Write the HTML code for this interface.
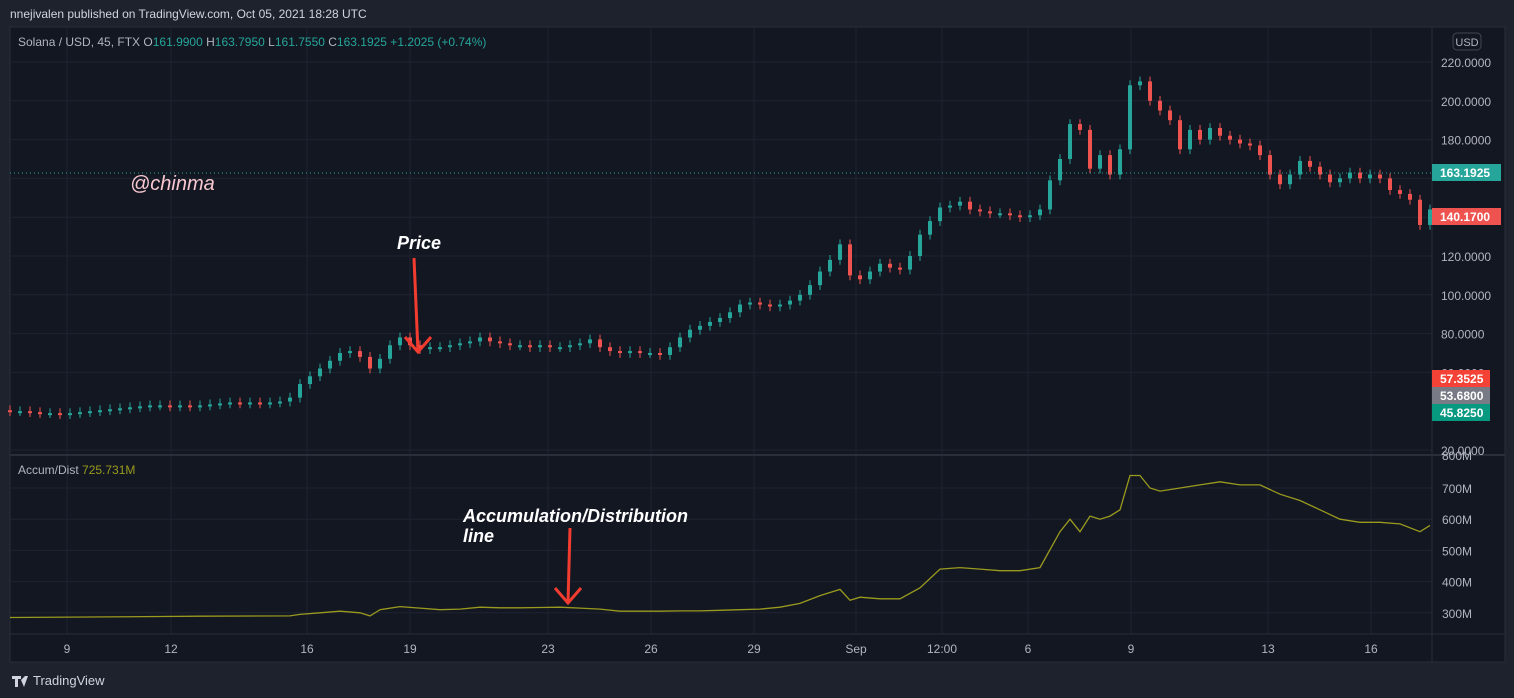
<!DOCTYPE html>
<html><head><meta charset="utf-8"><style>
body{margin:0;width:1514px;height:698px;background:#1e222d;overflow:hidden;font-family:"Liberation Sans",sans-serif;}
svg{position:absolute;left:0;top:0}
</style></head><body>
<svg id="c" width="1514" height="698"></svg>
<script>
const closes=[40,40,39.5,39,39,38.5,39,39.5,40,40.5,41,41.5,42,42.5,43,43,42.5,43,42.5,43,43.5,44,44.5,44,44.5,44,44.5,45,47,54,58,62,66,70,71,68,62,67,74,78,74,72,73,73,74,75,76,78,76,75,74,74,73,74,73,73,74,75,77,73,71,70,71,70,70,69,73,78,82,84,86,88,91,95,96,95,94,95,97,100,105,112,118,126,110,108,112,116,114,113,120,131,138,145,146,148,144,143,142,142,141,140,141,144,159,170,188,185,165,172,162,175,208,210,200,195,190,175,185,180,186,182,180,178,177,172,162,157,162,169,166,162,158,160,163,160,162,160,154,152,149,136,144];
const firstOpen=40.5;
const adIdx=[0,15,19,28,29,31,33,35,36,37,39,41,43,45,47,49,51,53,55,57,59,61,63,65,67,69,71,73,75,77,79,81,83,84,85,87,89,91,93,95,97,99,101,103,105,106,107,108,109,110,111,112,113,114,115,117,119,121,123,125,127,129,131,133,135,137,139,141,142];
const adVals=[285,288,289,290,295,300,305,300,290,310,320,315,310,312,318,316,316,317,318,315,312,305,305,305,306,306,308,310,312,318,330,355,375,340,350,345,345,380,440,445,440,435,435,445,560,600,560,610,600,610,630,740,740,700,690,700,710,720,710,710,680,660,630,600,590,590,585,560,580];
const priceTicks=[20,60,80,100,120,140,180,200,220];
const adTicks=[300,400,500,600,700];
const timeLabels=["9","12","16","19","23","26","29","Sep","12:00","6","9","13","16"];
const timePos=[67,171,307,410,548,651,754,856,942,1028,1131,1268,1371];
const NS="http://www.w3.org/2000/svg";
const svg=document.getElementById('c');
function el(t,a,p){const e=document.createElementNS(NS,t);for(const k in a)e.setAttribute(k,a[k]);(p||svg).appendChild(e);return e;}
function txt(s,a){const e=el('text',a);e.textContent=s;return e;}
const xOf=i=>10+10*i;
const yP=p=>62+(220-p)*1.94;
const yA=v=>488+(700-v)*0.312;
let r=el('rect',{x:10,y:27,width:1495,height:635,fill:'#131722',stroke:'#2a2e39'});

timePos.forEach(x=>{el('line',{x1:x,y1:27,x2:x,y2:634,stroke:'#1f2330'});});
priceTicks.forEach(p=>{el('line',{x1:10,y1:yP(p),x2:1432,y2:yP(p),stroke:'#1f2330'});});
[160].forEach(p=>{el('line',{x1:10,y1:yP(p),x2:1432,y2:yP(p),stroke:'#1f2330'});});
adTicks.forEach(v=>{el('line',{x1:10,y1:yA(v),x2:1432,y2:yA(v),stroke:'#1f2330'});});
el('line',{x1:10,y1:455,x2:1505,y2:455,stroke:'#2a2e39',"stroke-width":2});
el('line',{x1:10,y1:634,x2:1505,y2:634,stroke:'#2a2e39'});
el('line',{x1:1432,y1:27,x2:1432,y2:662,stroke:'#2a2e39'});
let prev=firstOpen;
closes.forEach((c,i)=>{
 const o=prev;prev=c;const up=c>=o;const col=up?'#26a69a':'#ef5350';
 const x=xOf(i);const hi=Math.max(o,c)+2.5,lo=Math.min(o,c)-2.5;
 const w=el('line',{x1:x,y1:yP(hi),x2:x,y2:yP(lo),stroke:col});
 
 const b=el('rect',{x:x-2,y:yP(Math.max(o,c)),width:4,height:Math.max(2,Math.abs(yP(o)-yP(c))),fill:col});
 
});
el('line',{x1:10,y1:173,x2:1432,y2:173,stroke:'#26a69a',"stroke-dasharray":"1 3"});
let d='';adIdx.forEach((ix,k)=>{d+=(k?'L':'M')+xOf(ix)+','+yA(adVals[k]).toFixed(1);});
const ad=el('path',{d:d,fill:'none',stroke:'#9a9a1e',"stroke-width":1.3});

priceTicks.forEach(p=>{const t=txt(p.toFixed(4),{x:1441,y:yP(p)+5,fill:'#b2b5be',"font-size":12});});
adTicks.forEach(v=>{const t=txt(v+'M',{x:1442,y:yA(v)+5,fill:'#b2b5be',"font-size":12});});
txt('800M',{x:1442,y:460,fill:'#b2b5be',"font-size":12});
timeLabels.forEach((s,k)=>{const t=txt(s,{x:timePos[k],y:653,fill:'#b2b5be',"font-size":12,"text-anchor":"middle"});});
[[163.1925,164,'#26a69a'],[140.17,208,'#ef5350'],[57.3525,370,'#f44336'],[53.68,387,'#787b86'],[45.825,404,'#089981']].forEach(b=>{
 const g=el('rect',{x:1432,y:b[1],width:b[0]>100?69:58,height:17,fill:b[2]});
 txt(b[0].toFixed(4),{x:1440,y:b[1]+13,fill:'#fff',"font-size":12,"font-weight":"bold"});
});
const usd=el('rect',{x:1453,y:33,width:28,height:17,rx:4,fill:'none',stroke:'#434651'});
txt('USD',{x:1467,y:46,fill:'#b2b5be',"font-size":11,"text-anchor":"middle"});
txt('nnejivalen published on TradingView.com, Oct 05, 2021 18:28 UTC',{x:10,y:18,fill:'#d1d4dc',"font-size":12});
const lg=txt('',{x:18,y:46,"font-size":12,fill:'#b2b5be'});
lg.innerHTML='<tspan>Solana / USD, 45, FTX  O</tspan><tspan fill="#26a69a">161.9900</tspan><tspan>  H</tspan><tspan fill="#26a69a">163.7950</tspan><tspan>  L</tspan><tspan fill="#26a69a">161.7550</tspan><tspan>  C</tspan><tspan fill="#26a69a">163.1925  +1.2025 (+0.74%)</tspan>';
const il=txt('',{x:18,y:474,"font-size":12,fill:'#b2b5be'});il.innerHTML='Accum/Dist  <tspan fill="#9a9a1e">725.731M</tspan>';
txt('@chinma',{x:130,y:190,fill:'#f8c8d0',"font-size":20,"font-style":"italic"});
txt('Price',{x:397,y:249,fill:'#fff',"font-size":18,"font-style":"italic","font-weight":"bold"});
txt('Accumulation/Distribution',{x:463,y:522,fill:'#fff',"font-size":18,"font-style":"italic","font-weight":"bold"});
txt('line',{x:463,y:542,fill:'#fff',"font-size":18,"font-style":"italic","font-weight":"bold"});
function arrow(x1,y1,x2,y2){const g=el('g',{stroke:'#f23c30',"stroke-width":3,fill:'none'});
 el('line',{x1,y1,x2,y2},g);el('polyline',{points:`${x2-13},${y2-15} ${x2},${y2} ${x2+13},${y2-15}`},g);}
arrow(414,258,418,352);arrow(570,528,568,603);
txt('TradingView',{x:33,y:685,fill:'#d1d4dc',"font-size":13});
el('path',{d:'M12 676h9v3h-3v8h-3v-8h-3z M21 680l3 7l4-11h-3z',fill:'#d1d4dc'});
</script>
</body></html>
